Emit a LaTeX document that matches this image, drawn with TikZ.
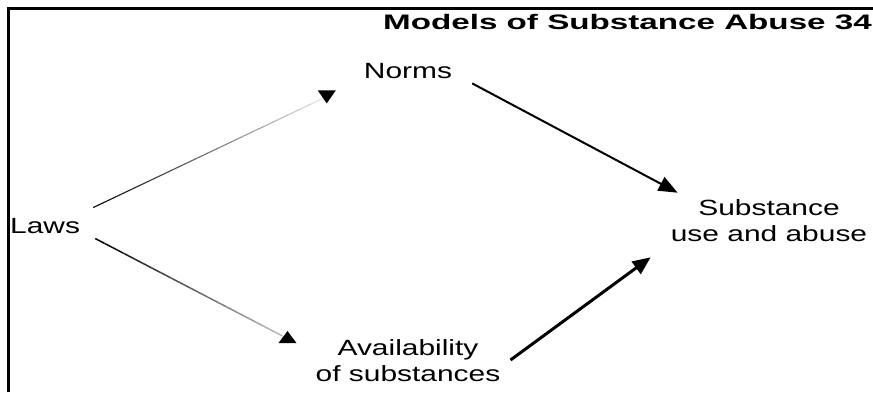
\documentclass[tikz,border=0pt]{standalone}
\usepackage{fontspec}
\usepackage{graphicx}
\setmainfont{Liberation Sans}
\usetikzlibrary{arrows.meta,calc}
\newcommand{\sxt}[1]{\scalebox{1.36}[1]{#1}}
\tikzset{
  label/.style={font=\fontsize{22}{26}\selectfont, inner sep=2pt, align=center},
  strong/.style={line width=2pt, -{Triangle[length=19pt,width=15pt]}},
  stronger/.style={line width=3pt, -{Triangle[length=18pt,width=15pt]}},
  framestyle/.style={line width=3pt, line join=miter},
  headtri/.style={fill=black}
}
\begin{document}
\begin{tikzpicture}[x=1pt,y=-1pt]
\useasboundingbox (0,0) rectangle (873,392);
% frame
\draw[framestyle] (8.5,392) -- (8.5,8.5) -- (873,8.5);
% title
\node[anchor=base east, inner sep=0pt, font=\fontsize{21}{25}\selectfont\bfseries] (title) at (872,29) {\scalebox{1.58}[1]{Models of Substance Abuse 34}};
% nodes
\node[label, anchor=base west] (laws) at (8,233) {\sxt{Laws}};
\node[label, anchor=base] (norms) at (408,78) {\sxt{Norms}};
\node[label] (avail) at (408,361) {\sxt{Availability}\\\sxt{of substances}};
\node[label] (subst) at (769,221) {\sxt{Substance}\\\sxt{use and abuse}};
% fading connectors
\coordinate (l1s) at ([shift={(11,-18)}]laws.east);
\coordinate (l1e) at ([shift={(-39,18)}]norms.south west);
\coordinate (l2s) at ([shift={(13,13)}]laws.east);
\coordinate (l2e) at ([shift={(-31,-25)}]avail.west);
\foreach \i in {0,...,19}{
  \pgfmathsetmacro\c{100-\i*4.6}
  \draw[line width=1.1pt, black!\c] ($(l1s)!\i/20!(l1e)$) -- ($(l1s)!{(\i+1)/20}!(l1e)$);
  \pgfmathsetmacro\d{100-\i*3.8}
  \draw[line width=1.5pt, black!\d] ($(l2s)!\i/20!(l2e)$) -- ($(l2s)!{(\i+1)/20}!(l2e)$);
}
% odd arrowheads
\fill[headtri] ([shift={(-44,10)}]norms.south west) -- ([shift={(-26,10)}]norms.south west) -- ([shift={(-35,23)}]norms.south west) -- cycle;
\fill[headtri] ([shift={(-35,-18)}]avail.west) -- ([shift={(-17,-18)}]avail.west) -- ([shift={(-26,-30)}]avail.west) -- cycle;
% solid connectors
\draw[strong] ([shift={(18,3)}]norms.south east) -- ([shift={(9,-5)}]subst.north west);
\draw[stronger] ([shift={(8,-1)}]avail.east) -- ([shift={(-18,13)}]subst.south west);
\end{tikzpicture}
\end{document}
